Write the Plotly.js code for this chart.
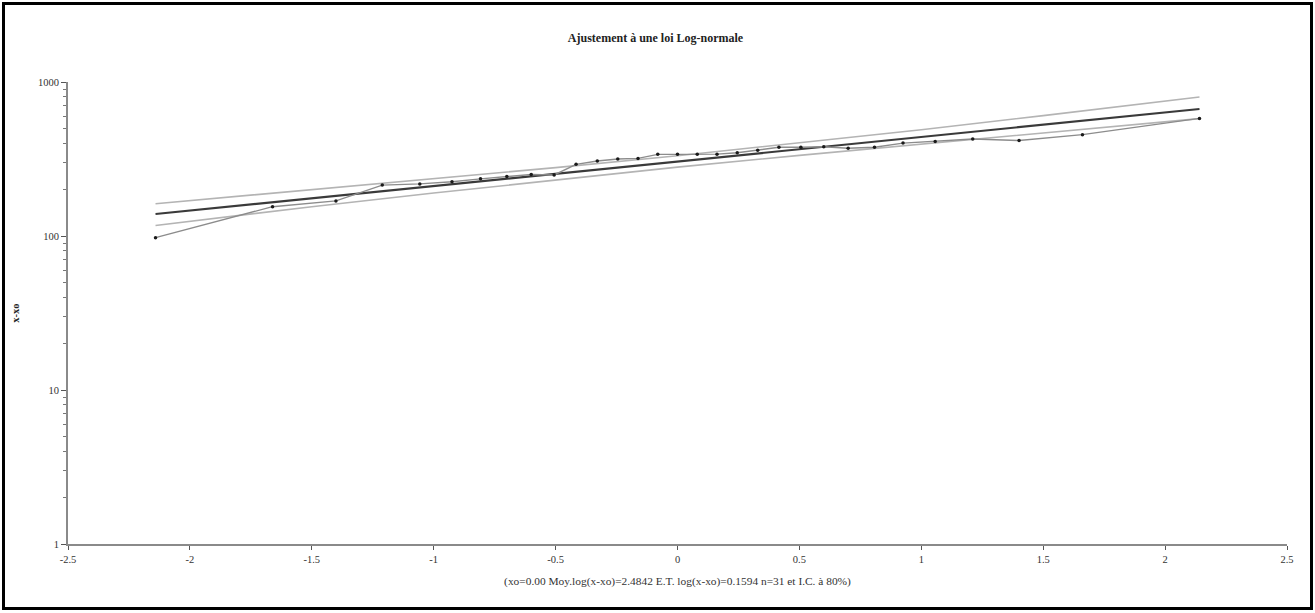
<!DOCTYPE html>
<html>
<head>
<meta charset="utf-8">
<script src="https://cdn.plot.ly/plotly-3.0.1.min.js"></script>
<style>
  html, body { margin: 0; padding: 0; background: #fff; }
  #wrap { position: relative; width: 1315px; height: 613px; }
  #chart { width: 1315px; height: 613px; }
  #frame { position: absolute; left: 2px; top: 2px; right: 2px; bottom: 3px;
           border: 3px solid #000; pointer-events: none; }
</style>
</head>
<body>
<div id="wrap"><div id="chart"></div><div id="frame"></div></div>
<script>
// Normal quantiles (Hazen plotting positions, n = 31)
const zQuantiles = [-2.141, -1.661, -1.401, -1.211, -1.057, -0.925, -0.808, -0.700, -0.600, -0.506,
                    -0.416, -0.329, -0.245, -0.162, -0.081, 0.000, 0.081, 0.162, 0.245, 0.329,
                    0.416, 0.506, 0.600, 0.700, 0.808, 0.925, 1.057, 1.211, 1.401, 1.661, 2.141];
const observed = [97.5, 155, 169, 214, 218, 225, 235, 243, 251, 249,
                  292, 307, 316, 319, 339, 339, 340, 340, 347, 361,
                  377, 377, 380, 371, 377, 401, 411, 426, 417, 455, 580];
// Fitted log-normal line
const fitZ = [-2.141, 2.141];
const fitValues = [139, 668];
// 80% confidence interval
const ciZ = [-2.141, -1.5, -1, -0.5, 0, 0.5, 1, 1.5, 2.141];
const ciUpper = [162, 200, 235, 278, 332, 402, 490, 605, 800];
const ciLower = [117, 155, 190, 231, 280, 334, 396, 466, 578];

const titleText = 'Ajustement à une loi Log-normale';
const xTitleText = '(xo=0.00 Moy.log(x-xo)=2.4842 E.T. log(x-xo)=0.1594 n=31 et I.C. à 80%)';
const yTitleText = 'x-xo';
const xTicks = [-2.5, -2, -1.5, -1, -0.5, 0, 0.5, 1, 1.5, 2, 2.5];
const xTickText = ['-2.5', '-2', '-1.5', '-1', '-0.5', '0', '0.5', '1', '1.5', '2', '2.5'];
const yTicks = [1, 10, 100, 1000];
const yTickText = ['1', '10', '100', '1000'];
const yMinor = [2,3,4,5,6,7,8,9,20,30,40,50,60,70,80,90,200,300,400,500,600,700,800,900];

const serif = 'Liberation Serif, Times New Roman, serif';

const traces = [
  { x: ciZ, y: ciUpper, mode: 'lines', line: { color: '#b4b4b4', width: 1.6 }, hoverinfo: 'skip' },
  { x: ciZ, y: ciLower, mode: 'lines', line: { color: '#b4b4b4', width: 1.6 }, hoverinfo: 'skip' },
  { x: fitZ, y: fitValues, mode: 'lines', line: { color: '#3a3a3a', width: 2.2 } },
  { x: zQuantiles, y: observed, mode: 'lines+markers',
    line: { color: '#8c8c8c', width: 1.4 },
    marker: { color: '#1a1a1a', size: 3.5, symbol: 'circle' } }
];

const layout = {
  width: 1315, height: 613,
  margin: { l: 68, r: 28, t: 82, b: 69 },
  paper_bgcolor: '#fff', plot_bgcolor: '#fff',
  showlegend: false,
  font: { family: serif, size: 10, color: '#333' },
  title: { text: '<b>' + titleText + '</b>', font: { family: serif, size: 12, color: '#222' },
           x: 0.4985, xanchor: 'center', y: 1 - 38 / 613, yanchor: 'middle' },
  xaxis: {
    range: [-2.5, 2.5], showgrid: false, zeroline: false,
    showline: true, linecolor: '#8a8a8a', linewidth: 2,
    tickmode: 'array', tickvals: xTicks, ticktext: xTickText,
    ticks: 'outside', ticklen: 4, tickcolor: '#555', tickwidth: 1,
    tickfont: { family: serif, size: 10.5, color: '#333' },
    title: { text: xTitleText, font: { family: serif, size: 11.4, color: '#333' }, standoff: 13 }
  },
  yaxis: {
    type: 'log', range: [0, 3], showgrid: false, zeroline: false,
    showline: true, linecolor: '#8a8a8a', linewidth: 2,
    tickmode: 'array', tickvals: yTicks, ticktext: yTickText,
    ticks: 'outside', ticklen: 5, tickcolor: '#555', tickwidth: 1,
    minor: { tickmode: 'array', tickvals: yMinor, ticks: 'outside', ticklen: 3, tickcolor: '#777', tickwidth: 1, showgrid: false },
    tickfont: { family: serif, size: 10.5, color: '#333' },
    title: { text: '<b>' + yTitleText + '</b>', font: { family: serif, size: 10.5, color: '#222' }, standoff: 16 }
  }
};

Plotly.newPlot('chart', traces, layout, { displayModeBar: false, staticPlot: true });
</script>
</body>
</html>
